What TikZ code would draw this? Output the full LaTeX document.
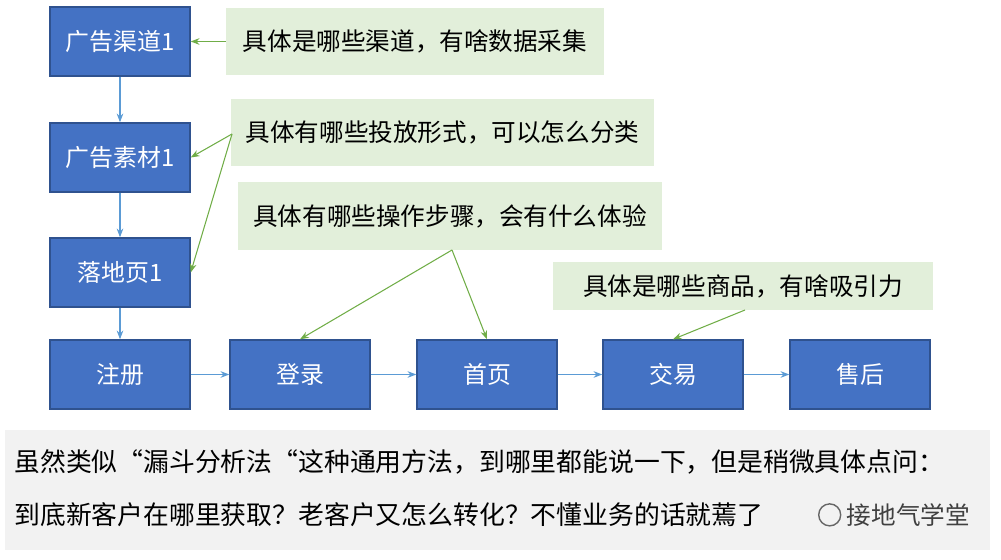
\documentclass[tikz,border=0pt]{standalone}
\usepackage{fontspec}
\usetikzlibrary{arrows.meta}
\setmainfont{Noto Sans CJK SC}
\definecolor{bfill}{HTML}{4472C4}
\definecolor{bdraw}{HTML}{2F528F}
\definecolor{gfill}{HTML}{E2EFDA}
\definecolor{gline}{HTML}{70AD47}
\definecolor{aline}{HTML}{5B9BD5}
\begin{document}
\begin{tikzpicture}[x=0.02cm,y=-0.02cm,
  bx/.style={draw=bdraw,line width=0.8pt,fill=bfill,text=white,minimum width=2.8cm,minimum height=1.38cm,font=\fontsize{13.6}{15}\selectfont},
  co/.style={fill=gfill,font=\fontsize{14}{16}\selectfont,text=black},
  ba/.style={aline,-{Stealth[length=5pt]},line width=0.6pt},
  ga/.style={gline,-{Stealth[length=5pt]},line width=0.6pt}]
\useasboundingbox (0,0) rectangle (1001,560);
\node[bx] (c1) at (120,41.5) {广告渠道1};
\node[bx] (c2) at (120,157.5) {广告素材1};
\node[bx] (c3) at (120,272.5) {落地页1};
\node[bx] (r1) at (120,374.5) {注册};
\node[bx] (r2) at (300,374.5) {登录};
\node[bx] (r3) at (487,374.5) {首页};
\node[bx] (r4) at (673,374.5) {交易};
\node[bx] (r5) at (860,374.5) {售后};
\draw[ba] (c1) -- (c2);
\draw[ba] (c2) -- (c3);
\draw[ba] (c3) -- (r1);
\draw[ba] (r1) -- (r2);
\draw[ba] (r2) -- (r3);
\draw[ba] (r3) -- (r4);
\draw[ba] (r4) -- (r5);
\node[co,minimum width=7.56cm,minimum height=1.34cm] (n1) at (415,41.5) {具体是哪些渠道，有啥数据采集};
\node[co,minimum width=8.46cm,minimum height=1.34cm] (n2) at (442.5,132.5) {具体有哪些投放形式，可以怎么分类};
\node[co,minimum width=8.48cm,minimum height=1.36cm] (n3) at (450,216) {具体有哪些操作步骤，会有什么体验};
\node[co,minimum width=7.6cm,minimum height=0.96cm] (n4) at (743,286) {具体是哪些商品，有啥吸引力};
\coordinate (p2) at (232,134);
\coordinate (p3) at (452,250);
\coordinate (p4) at (745,310);
\draw[ga] (n1.west) -- (c1.east);
\draw[ga] (p2) -- (c2.east);
\draw[ga] (p2) -- (c3.east);
\draw[ga] (p3) -- (r2.north);
\draw[ga] (p3) -- (r3.north);
\draw[ga] (p4) -- (r4.north);
\node[fill=black!5,minimum width=19.7cm,minimum height=2.4cm] (t) at (497.5,490) {};
\node[anchor=west,inner sep=0pt,font=\fontsize{14.7}{16}\selectfont] (t1) at (14,462) {虽然类似“漏斗分析法“这种通用方法，到哪里都能说一下，但是稍微具体点问：};
\node[anchor=west,inner sep=0pt,font=\fontsize{14.7}{16}\selectfont] (t2) at (14,515) {到底新客户在哪里获取？老客户又怎么转化？不懂业务的话就蔫了};
\node[anchor=east,font=\fontsize{14}{16}\selectfont,text=black!75,fill=black!5,inner sep=1pt] (w) at (972,515) {\raisebox{-1pt}{\tikz\draw[black!60,line width=0.8pt] (0,0) circle (0.22cm);}\ 接地气学堂};
\end{tikzpicture}
\end{document}
